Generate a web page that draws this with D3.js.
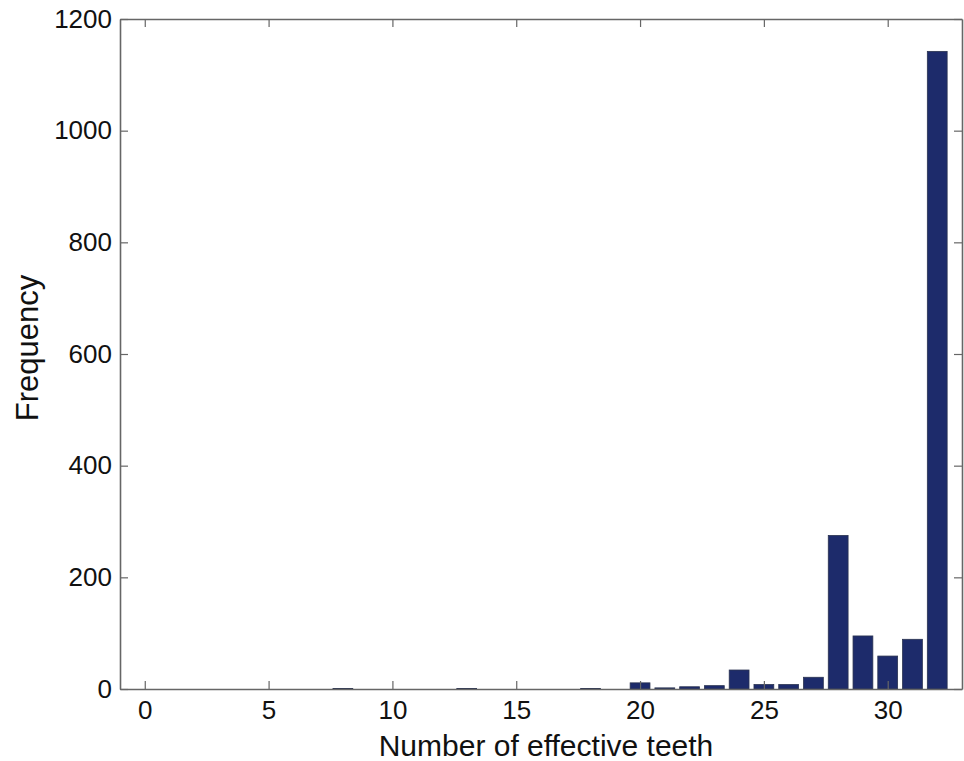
<!DOCTYPE html>
<html>
<head>
<meta charset="utf-8">
<script src="https://cdn.jsdelivr.net/npm/d3@7"></script>
<style>
  html, body { margin: 0; padding: 0; background: #fff; }
  svg { display: block; }
  text { font-family: "Liberation Sans", Arial, Helvetica, sans-serif; fill: #111; }
</style>
</head>
<body>
<svg id="chart" width="964" height="761"></svg>
<script>
// Histogram of the number of effective teeth per subject
const teeth     = [8, 13, 18, 20, 21, 22, 23, 24, 25, 26, 27, 28, 29, 30, 31, 32];
const frequency = [1, 1, 1, 11, 2, 4, 6, 34, 8, 8, 21, 275, 95, 59, 89, 1142];

const xTicks = [0, 5, 10, 15, 20, 25, 30];
const yTicks = [0, 200, 400, 600, 800, 1000, 1200];

const W = 964, H = 761;
const plot = { left: 120, right: 962, top: 19, bottom: 689 };

const svg = d3.select("#chart");

const x = d3.scaleLinear().domain([-1, 33]).range([plot.left, plot.right]);
const y = d3.scaleLinear().domain([0, 1200]).range([plot.bottom, plot.top]);

const barW = (x(1) - x(0)) * 0.8;

// bars
svg.append("g")
  .selectAll("rect")
  .data(teeth.map((t, i) => ({ t, f: frequency[i] })))
  .join("rect")
  .attr("x", d => x(d.t) - barW / 2)
  .attr("width", barW)
  .attr("y", d => y(d.f))
  .attr("height", d => Math.max(0.8, y(0) - y(d.f)))
  .attr("fill", "#1d2b6b")
  .attr("stroke", "#2a3350")
  .attr("stroke-width", 0.8);

const axisColor = "#666";
const tickLen = 8;
const fmt = d3.format("d");

// axes with inward ticks on all four sides
const bottomAxis = svg.append("g")
  .attr("transform", `translate(0,${plot.bottom})`)
  .call(d3.axisBottom(x).tickValues(xTicks).tickFormat(fmt).tickSizeInner(-tickLen).tickSizeOuter(0).tickPadding(12));
const topAxis = svg.append("g")
  .attr("transform", `translate(0,${plot.top})`)
  .call(d3.axisTop(x).tickValues(xTicks).tickSizeInner(-tickLen).tickSizeOuter(0).tickFormat(""));
const leftAxis = svg.append("g")
  .attr("transform", `translate(${plot.left},0)`)
  .call(d3.axisLeft(y).tickValues(yTicks).tickFormat(fmt).tickSizeInner(-tickLen).tickSizeOuter(0).tickPadding(8));
const rightAxis = svg.append("g")
  .attr("transform", `translate(${plot.right},0)`)
  .call(d3.axisRight(y).tickValues(yTicks).tickSizeInner(-tickLen).tickSizeOuter(0).tickFormat(""));

[bottomAxis, topAxis, leftAxis, rightAxis].forEach(g => {
  g.select(".domain").attr("stroke", axisColor).attr("stroke-width", 1.6);
  g.selectAll(".tick line").attr("stroke", axisColor).attr("stroke-width", 1.2);
  g.selectAll(".tick text")
    .attr("font-size", 26)
    .attr("fill", "#111")
    .attr("font-family", "'Liberation Sans', Arial, sans-serif");
});
bottomAxis.selectAll(".tick text").attr("dy", "0.71em");

// axis titles
svg.append("text")
  .attr("x", 546)
  .attr("y", 756)
  .attr("text-anchor", "middle")
  .attr("font-size", 30)
  .text("Number of effective teeth");

svg.append("text")
  .attr("transform", "translate(38,348) rotate(-90)")
  .attr("text-anchor", "middle")
  .attr("font-size", 31)
  .text("Frequency");
</script>
</body>
</html>
